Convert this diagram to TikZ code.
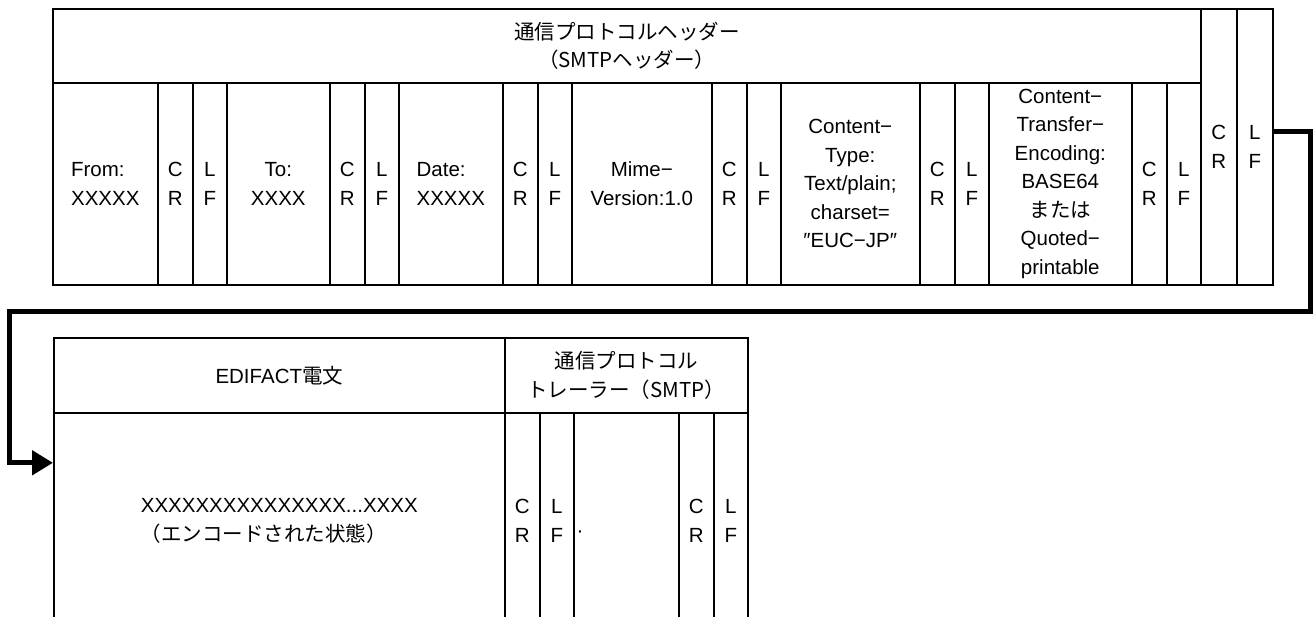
\documentclass[tikz,border=0pt]{standalone}
\usepackage{fontspec}
\setmainfont{Liberation Sans}
\newfontfamily\jpfont{Noto Sans CJK JP}
\usetikzlibrary{arrows.meta}

\begin{document}
\begin{tikzpicture}[x=1pt,y=-1pt,
		cell/.style={draw, line width=1.6pt, anchor=north west, inner sep=0pt, align=center,
			font=\fontsize{20.5}{28.5}\selectfont},
		flow/.style={line width=5pt, -{Triangle[length=21pt,width=24pt]}}]
		\useasboundingbox (0,0) rectangle (1314,617);
		\clip (0,0) rectangle (1314,617);

		\node[cell, minimum width=1148, minimum height=74] at (52,8)(head){{\jpfont 通信プロトコルヘッダー}\\{\jpfont （SMTPヘッダー）}};
		\node[cell, minimum width=105, minimum height=202, align=left] at (52,82)(from){From:\\XXXXX};
		\node[cell, minimum width=103, minimum height=202] at (226,82)(to){To:\\XXXX};
		\node[cell, minimum width=104, minimum height=202, align=left] at (398,82)(date){Date:\\XXXXX};
		\node[cell, minimum width=140, minimum height=202] at (571,82)(mime){Mime−\\Version:1.0};
		\node[cell, minimum width=139, minimum height=202] at (780,82)(ctype){Content−\\Type:\\Text/plain;\\charset=\\″EUC−JP″};
		\node[cell, minimum width=143, minimum height=202] at (988,82)(cte){Content−\\Transfer−\\Encoding:\\BASE64\\{\jpfont または}\\Quoted−\\printable};
		\foreach \i/\x in {1/157,2/329,3/502,4/711,5/919,6/1131}{
			\node[cell, minimum width=35, minimum height=202] at (\x,82)(cr\i){C\\R};
			\node[cell, minimum width=34, minimum height=202] at (\x+35,82)(lf\i){L\\F};
		}
		\node[cell, minimum width=36, minimum height=276] at (1200,8)(crEnd){C\\R};
		\node[cell, minimum width=36, minimum height=276] at (1236,8)(lfEnd){L\\F};

		\node[cell, minimum width=451, minimum height=75] at (53,337)(ediHead){EDIFACT{\jpfont 電文}};
		\node[cell, minimum width=243, minimum height=75] at (504,337)(trailHead){{\jpfont 通信プロトコル}\\{\jpfont トレーラー（SMTP）}};
		\node[cell, minimum width=451, minimum height=216, align=left] at (53,412)(body){XXXXXXXXXXXXXXX...XXXX\\{\jpfont （エンコードされた状態）}};
		\foreach \i/\x in {7/504,8/678}{
			\node[cell, minimum width=35, minimum height=216] at (\x,412)(cr\i){C\\R};
			\node[cell, minimum width=34, minimum height=216] at (\x+35,412)(lf\i){L\\F};
		}
		\node[cell, minimum width=105, minimum height=216] at (573,412)(gap){};
		\node[anchor=base, inner sep=0pt, font=\fontsize{20.5}{28.5}\selectfont] at (580,537)(dot){·};

		\coordinate (turnR) at (1310,312);
		\coordinate (turnL) at (9,312);
		\draw[flow] ([yshift=15pt]lfEnd.east) -| (turnR) -- (turnL) |- ([yshift=58pt]body.west);
	\end{tikzpicture}
\end{document}
